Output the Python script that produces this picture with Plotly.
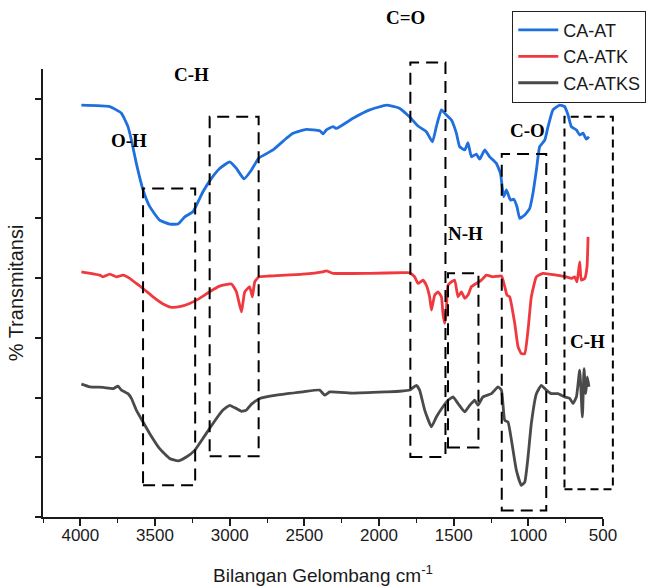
import plotly.graph_objects as go

# FTIR spectra: wavenumber (cm-1) and offset % transmittance
wn_at = [3993, 3803, 3725, 3681, 3658, 3625, 3580, 3535, 3469, 3402, 3346, 3301, 3246,
         3179, 3122, 3067, 3000, 2955, 2904, 2854, 2806, 2710, 2620, 2576, 2486, 2397,
         2375, 2352, 2308, 2285, 2174, 2062, 1950, 1861, 1794, 1739, 1683, 1642, 1616,
         1582, 1549, 1515, 1482, 1460, 1426, 1404, 1381, 1348, 1326, 1292, 1259, 1214,
         1187, 1165, 1147, 1120, 1098, 1076, 1058, 1024, 991, 969, 946, 924, 890, 868,
         835, 790, 757, 734, 712, 678, 656, 634, 611, 594]
t_at = [137.9, 137.4, 135.2, 130.7, 126.2, 118.4, 109.5, 103.9, 99.4, 98.1, 98.1, 100.5, 102.2,
        108.9, 113.4, 116.7, 118.9, 116.7, 113.2, 116.2, 120.1, 122.9, 126.8, 128.5, 129.8, 129.3,
        128.3, 129.6, 130.7, 130.1, 133.5, 136.3, 137.9, 136.8, 133.9, 130.9, 129.0, 125.6, 130.7,
        136.3, 134.6, 132.9, 128.5, 124.0, 122.9, 125.3, 120.6, 121.5, 119.8, 122.9, 120.6, 118.4,
        115.1, 107.2, 109.5, 106.1, 106.4, 103.9, 100.0, 101.1, 103.3, 108.4, 116.2, 124.0, 126.2, 130.7,
        136.3, 137.9, 137.4, 134.6, 130.7, 129.6, 127.9, 128.5, 126.5, 127.3]

wn_atk = [3993, 3870, 3848, 3803, 3758, 3714, 3669, 3625, 3580, 3513, 3446, 3390, 3335,
          3268, 3201, 3134, 3067, 2988, 2955, 2921, 2899, 2866, 2848, 2832, 2804, 2732,
          2509, 2375, 2352, 2308, 2062, 1839, 1794, 1761, 1739, 1705, 1683, 1661, 1649,
          1627, 1605, 1582, 1572, 1560, 1549, 1538, 1515, 1493, 1471, 1448, 1426, 1404,
          1381, 1348, 1314, 1281, 1237, 1180, 1158, 1143, 1125, 1091, 1069, 1047, 1024,
          1002, 980, 946, 902, 812, 745, 712, 690, 674, 656, 645, 622, 607, 600]
t_atk = [82.1, 81.0, 80.4, 81.3, 80.4, 81.0, 79.9, 78.2, 76.5, 73.7, 71.3, 70.2, 70.4,
         71.5, 73.2, 75.4, 77.3, 78.0, 75.4, 68.7, 75.4, 77.1, 73.7, 78.7, 80.4, 80.7,
         81.3, 82.1, 82.4, 81.6, 81.6, 81.8, 81.8, 80.4, 78.2, 79.3, 77.6, 73.7, 69.3,
         74.3, 75.4, 73.7, 68.2, 64.8, 69.3, 77.6, 78.7, 79.3, 73.7, 75.4, 73.2, 74.3,
         77.1, 78.2, 79.3, 81.0, 80.4, 80.7, 77.1, 74.3, 73.7, 64.8, 57.0, 54.7, 54.7,
         62.6, 73.7, 80.4, 81.6, 81.0, 80.4, 79.9, 80.4, 78.7, 85.4, 79.3, 79.9, 83.8, 93.8]

wn_atks = [3993, 3937, 3848, 3781, 3748, 3725, 3681, 3658, 3625, 3580, 3535, 3469, 3402,
           3346, 3290, 3234, 3179, 3112, 3045, 3000, 2955, 2921, 2888, 2854, 2799, 2687,
           2509, 2397, 2364, 2330, 2174, 1950, 1861, 1794, 1750, 1728, 1694, 1649, 1616,
           1572, 1538, 1504, 1471, 1426, 1393, 1359, 1337, 1304, 1247, 1203, 1180, 1158,
           1136, 1113, 1080, 1047, 1024, 1002, 980, 946, 913, 879, 846, 801, 757, 723,
           701, 678, 656, 638, 627, 616, 605, 594]
t_atks = [44.5, 43.6, 43.4, 43.0, 43.8, 42.5, 41.3, 39.7, 35.8, 31.8, 27.9, 22.9, 19.6,
          18.8, 20.1, 22.3, 26.3, 31.3, 35.8, 37.4, 36.3, 35.4, 35.8, 37.8, 39.7, 40.8,
          41.9, 42.5, 40.8, 41.9, 41.5, 41.9, 42.1, 42.5, 44.1, 42.5, 35.8, 30.2, 33.5,
          36.9, 39.1, 40.2, 38.0, 35.2, 37.4, 39.1, 37.4, 40.2, 41.3, 43.6, 42.5, 32.4,
          31.8, 25.7, 15.6, 10.6, 11.7, 20.1, 31.3, 41.3, 44.1, 42.5, 41.3, 41.3, 40.2, 39.7,
          38.0, 40.2, 49.2, 33.5, 49.7, 41.3, 46.9, 43.6]

series_names = ["CA-AT", "CA-ATK", "CA-ATKS"]
series_colors = ["#1f6fdc", "#f0393f", "#4a4a4a"]

# Band regions (wavenumber span, transmittance span) and their labels
band_labels = ["O-H", "C-H", "C=O", "N-H", "C-O", "C-H"]
band_wn_high = [3580, 3134, 1790, 1538, 1178, 758]
band_wn_low = [3231, 2806, 1555, 1334, 880, 434]
band_t_top = [110.0, 134.0, 152.2, 81.6, 121.5, 134.0]
band_t_bottom = [10.6, 20.3, 20.1, 23.3, 2.2, 9.3]
label_wn = [3673, 3255, 1821, 1419, 1004, 602]
label_t = [126.2, 148.3, 167.1, 95.0, 129.4, 58.6]

X_RANGE = [4250, 500]
Y_RANGE = [0, 150]

fig = go.Figure()
for wn, t, name, col in zip([wn_at, wn_atk, wn_atks], [t_at, t_atk, t_atks],
                            series_names, series_colors):
    fig.add_trace(go.Scatter(x=wn, y=t, mode="lines", name=name,
                             line=dict(color=col, width=2.8, shape="spline", smoothing=0.4)))


def to_px(wn):
    return (X_RANGE[0] - wn) / (X_RANGE[0] - X_RANGE[1])


def to_py(t):
    return (t - Y_RANGE[0]) / (Y_RANGE[1] - Y_RANGE[0])


for i in range(len(band_labels)):
    dash = "8px,5px" if i == 5 else "12px,7px"
    fig.add_shape(type="rect", xref="paper", yref="paper",
                  x0=to_px(band_wn_high[i]), x1=to_px(band_wn_low[i]),
                  y0=to_py(band_t_bottom[i]), y1=to_py(band_t_top[i]),
                  line=dict(color="black", width=2, dash=dash),
                  fillcolor="rgba(0,0,0,0)", layer="above")
    fig.add_annotation(x=to_px(label_wn[i]), y=to_py(label_t[i]), xref="paper", yref="paper",
                       xanchor="center", yanchor="middle",
                       text="<b>%s</b>" % band_labels[i], showarrow=False,
                       font=dict(family="Liberation Serif", size=19, color="black"))

fig.update_layout(
    width=653, height=588,
    margin=dict(l=43, r=50, t=69, b=71, autoexpand=False),
    plot_bgcolor="white", paper_bgcolor="white",
    font=dict(family="Liberation Sans, Arial, sans-serif", color="#1a1a1a"),
    showlegend=True,
    legend=dict(x=0.838, y=1.13, xanchor="left", yanchor="top",
                bordercolor="#222", borderwidth=1, bgcolor="white",
                font=dict(size=18, family="Liberation Sans"),
                tracegroupgap=0, itemwidth=40),
    xaxis=dict(range=X_RANGE, showline=True, linecolor="#1a1a1a", linewidth=1.8,
               ticks="outside", ticklen=7, tickwidth=1.5, tickcolor="#1a1a1a",
               tick0=500, dtick=500, showgrid=False, zeroline=False,
               tickfont=dict(size=17), ticklabelstandoff=-5,
               minor=dict(ticks="outside", ticklen=4, tickwidth=1.3, tickcolor="#1a1a1a",
                          dtick=250, showgrid=False),
               title=dict(text="Bilangan Gelombang cm<sup>-1</sup>", font=dict(size=19),
                          standoff=24)),
    yaxis=dict(range=Y_RANGE, showline=True, linecolor="#1a1a1a", linewidth=1.8,
               ticks="outside", ticklen=6, tickwidth=1.5, tickcolor="#1a1a1a",
               tick0=0, dtick=20, showticklabels=False, showgrid=False, zeroline=False,
               title=dict(text="% Transmitansi", font=dict(size=20), standoff=6)),
)

fig.write_html("out.html")
